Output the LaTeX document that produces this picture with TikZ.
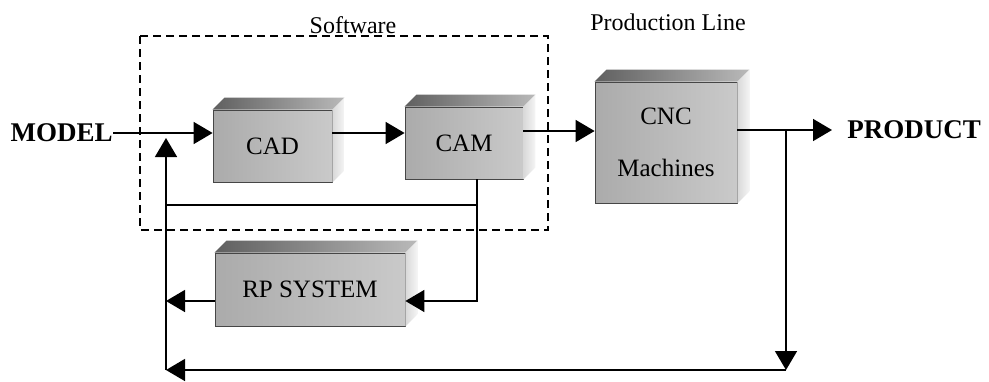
\documentclass[tikz,border=0pt]{standalone}
\usepackage{fontspec}
\setmainfont{Liberation Serif}
\usetikzlibrary{arrows.meta}
\tikzset{
  flow/.style={line width=0.8pt,-{Triangle[length=9.5pt,width=11pt]}},
  wire/.style={line width=0.8pt},
  block/.style={rectangle,left color=gray!66,right color=gray!42,draw=gray!55!black,line width=0.4pt,
    align=center,font=\fontsize{12.5}{16}\selectfont,inner sep=0pt},
  bold label/.style={font=\fontsize{13.5}{16}\selectfont\bfseries,inner sep=0pt},
  plain label/.style={font=\fontsize{12}{14}\selectfont,inner sep=0pt}
}
\begin{document}
\begin{tikzpicture}[x=0.5pt,y=-0.5pt]
\useasboundingbox (0,0) rectangle (989,381);
% software frame
\draw[dashed,dash pattern=on 4pt off 2.5pt,line width=0.8pt] (140,36) rectangle (548,230);
\node[plain label] (soft) at (353,25) {Software};
\node[plain label] (line) at (668,22) {Production Line};
% the blocks
\node[block,minimum width=59.5pt,minimum height=36pt] (cad) at (272.5,146) {CAD};
\node[block,minimum width=59pt,minimum height=36pt] (cam) at (464,143) {CAM};
\node[block,minimum width=71pt,minimum height=60.5pt] (cnc) at (666,142.5) {CNC\\[10pt]Machines};
\node[block,minimum width=95pt,minimum height=36.5pt] (rp) at (310,289.5) {RP SYSTEM};
\foreach \b in {cad,cam,cnc,rp}{
  \shade[left color=gray!75!black,right color=gray!55] (\b.north west) -- ++(6pt,6pt)
    -- ([shift={(6pt,6pt)}]\b.north east) -- (\b.north east) -- cycle;
  \shade[left color=gray!30,right color=gray!8] (\b.north east) -- ++(6pt,6pt)
    -- ([shift={(6pt,6pt)}]\b.south east) -- (\b.south east) -- cycle;
}
% in and out
\node[bold label,anchor=east] (model) at (113,133) {MODEL};
\node[bold label,anchor=west] (product) at (847,130) {PRODUCT};
\coordinate (out) at (832,130);
\coordinate (br) at (786,130);
\coordinate (down) at (786,370);
\coordinate (fb) at (166,370);
\coordinate (up) at (166,138);
\coordinate (camtap) at (477,179);
\coordinate (rpline) at (0,301);
\coordinate (back) at (0,205);
\draw[flow] (model.east) -- (model.east -| cad.west);
\draw[flow] (cad.east |- model.east) -- (cam.west |- model.east);
\draw[flow] (cam.east |- 0,131) -- (cnc.west |- 0,131);
\draw[flow] (cnc.east |- out) -- (out);
% feedback
\draw[flow] (br) -- (down);
\draw[flow] (down) -- (fb);
\draw[flow] (fb) -- (up);
\draw[flow] (camtap) |- (rp.east |- rpline);
\draw[flow] (rp.west |- rpline) -- (fb |- rpline);
\draw[wire] (camtap |- back) -- (fb |- back);
\end{tikzpicture}
\end{document}
